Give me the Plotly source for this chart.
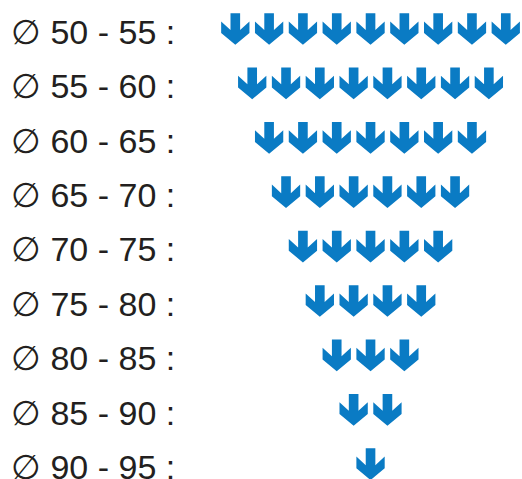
import plotly.graph_objects as go

# Data
ranges = ["50 - 55", "55 - 60", "60 - 65", "65 - 70", "70 - 75",
          "75 - 80", "80 - 85", "85 - 90", "90 - 95"]
counts = [9, 8, 7, 6, 5, 4, 3, 2, 1]

ARROW_COLOR = "#0a7bc4"
TEXT_COLOR = "#231f20"

# arrow template (normalized: x 0..1 left->right, y 0..1 top->bottom)
template = [(0.33, 0), (0.67, 0), (0.67, 0.53), (1, 0.26), (1, 0.63),
            (0.5, 1), (0, 0.63), (0, 0.26), (0.33, 0.53), (0.33, 0)]
AW = 0.837   # arrow width in x units (1 unit = arrow spacing)
AH = 0.583   # arrow height in y units (1 unit = row spacing)

xs, ys = [], []
for row, n in enumerate(counts):
    for j in range(n):
        cx = j - (n - 1) / 2
        for (tx, ty) in template:
            xs.append(cx + (tx - 0.5) * AW)
            ys.append(row + (ty - 0.5) * AH)
        xs.append(None)
        ys.append(None)

fig = go.Figure()
fig.add_trace(go.Scatter(x=xs, y=ys, mode="lines", fill="toself",
                         fillcolor=ARROW_COLOR, line=dict(width=0, color=ARROW_COLOR),
                         hoverinfo="skip", showlegend=False))

for row, r in enumerate(ranges):
    fig.add_annotation(x=0.017, xref="paper", y=row + 0.05, yref="y",
                       text="\u2205 " + r + " :", showarrow=False,
                       xanchor="left", yanchor="middle",
                       font=dict(family="Liberation Sans, Arial, sans-serif",
                                 size=34, color=TEXT_COLOR))

fig.update_layout(
    width=522, height=479,
    margin=dict(l=0, r=0, t=0, b=0),
    paper_bgcolor="white", plot_bgcolor="white",
    xaxis=dict(range=[-10.96, 4.48], visible=False, fixedrange=True),
    yaxis=dict(range=[8.272, -0.533], visible=False, fixedrange=True),
)

fig.write_html("out.html", config={"displayModeBar": False},
               post_script="document.body.style.margin='0';document.body.style.overflow='hidden';")
